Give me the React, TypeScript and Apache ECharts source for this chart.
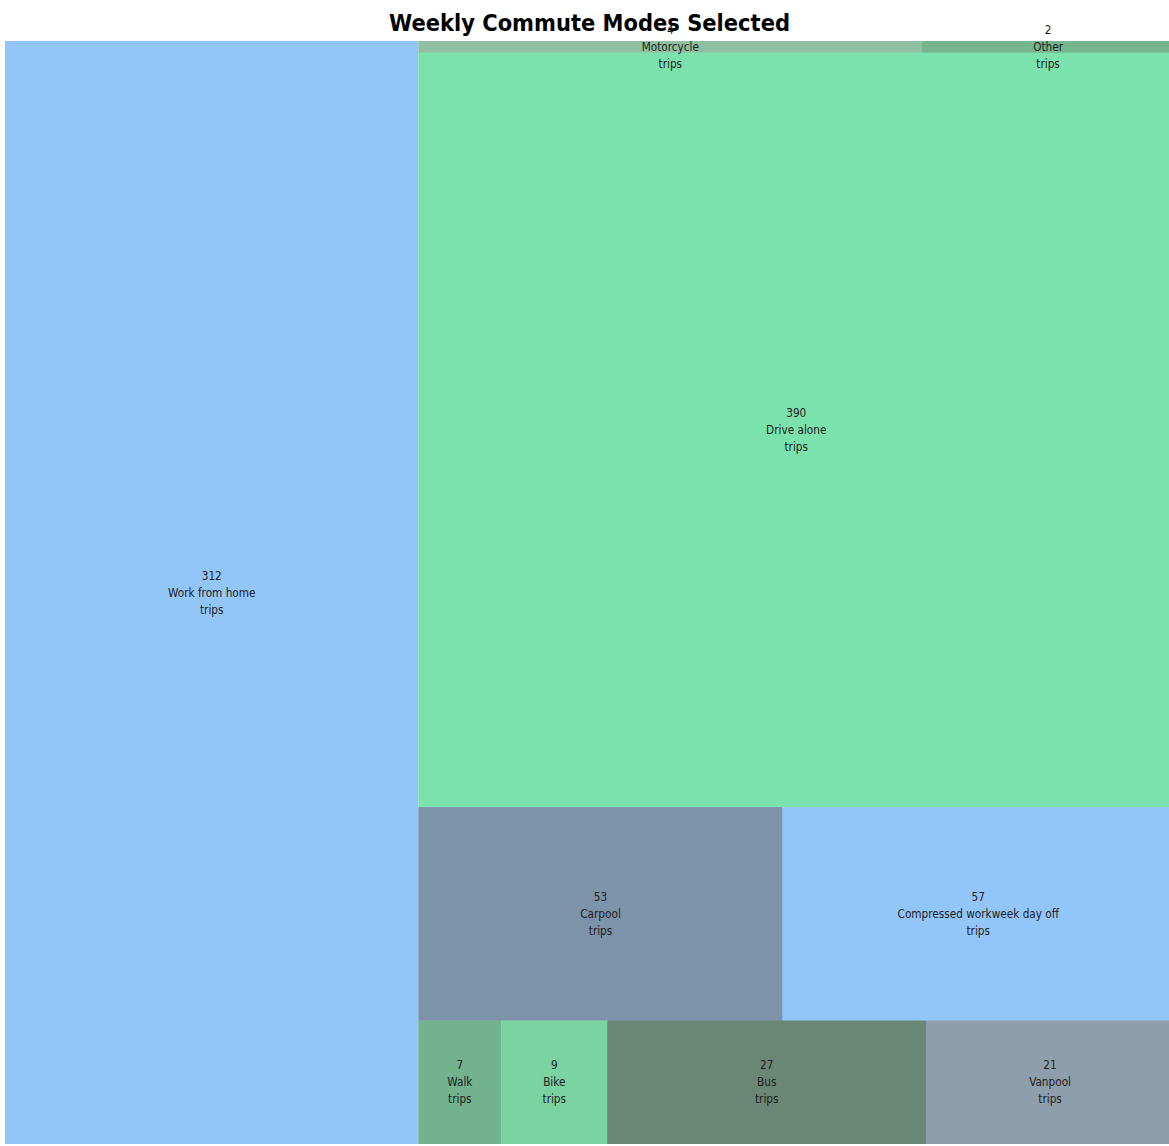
import React, { useEffect, useRef } from 'react';
import * as echarts from 'echarts';

const titleText = 'Weekly Commute Modes Selected';
const names = [
  'Work from home',
  'Drive alone',
  'Motorcycle',
  'Other',
  'Carpool',
  'Compressed workweek day off',
  'Walk',
  'Bike',
  'Bus',
  'Vanpool',
];
const values = [312, 390, 4, 2, 53, 57, 7, 9, 27, 21];
const colors = [
  '#93c6f8',
  '#7ce2ad',
  '#8fc0a2',
  '#74b58e',
  '#7d93aa',
  '#93c6f8',
  '#72b38e',
  '#79d4a2',
  '#6a8776',
  '#8f9ead',
];
const unitLabel = 'trips';

// grouping of the blocks (indices into names) used to reproduce the reference arrangement
const topStrip = [2, 3];
const middleRow = [4, 5];
const bottomRow = [6, 7, 8, 9];

const FONT = '"DejaVu Sans Condensed", "DejaVu Sans", sans-serif';

function leaf(i: number) {
  return {
    name: names[i],
    value: values[i],
    itemStyle: { color: colors[i], borderColor: colors[i] },
  };
}

function buildData() {
  return [
    leaf(0),
    {
      name: 'rest',
      children: [
        {
          name: 'upper',
          children: [
            { name: 'top', children: topStrip.map(leaf) },
            leaf(1),
            { name: 'middle', children: middleRow.map(leaf) },
          ],
        },
        { name: 'bottom', children: bottomRow.map(leaf) },
      ],
    },
  ];
}

export default function App() {
  const ref = useRef<HTMLDivElement>(null);
  useEffect(() => {
    if (!ref.current) return;
    const chart = echarts.init(ref.current, undefined, { renderer: 'svg' });
    chart.setOption({
      animation: false,
      backgroundColor: '#ffffff',
      title: {
        text: titleText,
        left: 589.5,
        textAlign: 'center',
        top: 11,
        padding: 0,
        textStyle: {
          fontFamily: FONT,
          fontWeight: 'bold',
          fontSize: 23.4,
          color: '#000000',
        },
      },
      tooltip: { show: false },
      series: [
        {
          type: 'treemap',
          left: 5,
          top: 41,
          width: 1169,
          height: 1103,
          sort: false,
          squareRatio: 0.5,
          roam: false,
          nodeClick: false,
          breadcrumb: { show: false },
          visibleMin: 0,
          upperLabel: { show: false },
          itemStyle: { borderWidth: 0, gapWidth: 0, borderColor: '#ffffff' },
          label: {
            show: true,
            position: 'inside',
            align: 'center',
            verticalAlign: 'middle',
            color: '#1c1c1c',
            fontFamily: FONT,
            fontSize: 11.7,
            lineHeight: 17,
            padding: [-30, 0, -30, 0],
            overflow: 'none',
            formatter: (p: any) => `${p.value}\n${p.name}\n${unitLabel}`,
          },
          emphasis: { disabled: true },
          data: buildData(),
        },
      ],
    });
    return () => chart.dispose();
  }, []);
  return (
    <div
      ref={ref}
      style={{ position: 'absolute', left: 0, top: 0, width: 1169, height: 1146 }}
    />
  );
}
